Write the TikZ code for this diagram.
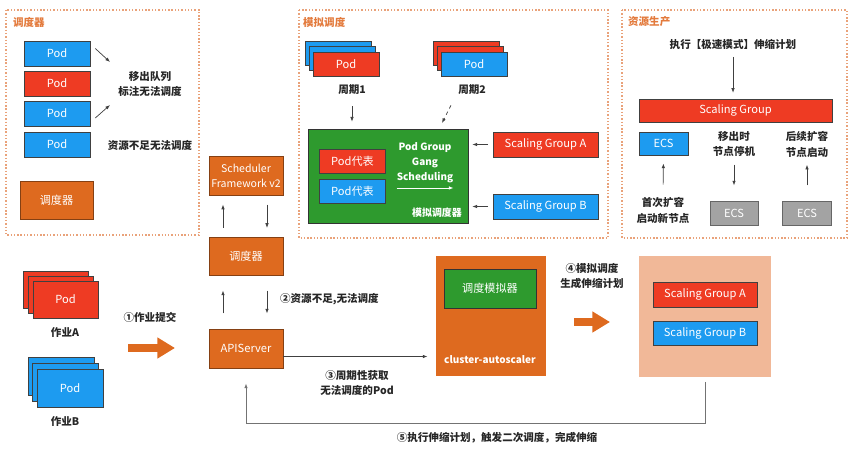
\documentclass[tikz,border=0pt]{standalone}
\usepackage{fontspec}
\setmainfont{Noto Sans CJK SC}
\usepackage{xcolor}
\usetikzlibrary{arrows.meta}
\definecolor{podred}{HTML}{EE3B23}
\definecolor{podblue}{HTML}{1D9BF0}
\definecolor{boxorange}{HTML}{DE6A1F}
\definecolor{simgreen}{HTML}{2E9A2E}
\definecolor{ecsgray}{HTML}{A3A3A3}
\definecolor{peach}{HTML}{F1B898}
\definecolor{dotorange}{HTML}{E9A27A}
\definecolor{ttlorange}{HTML}{E37A3C}

\begin{document}
\begin{tikzpicture}[x=0.03cm,y=-0.03cm,>={Latex[length=4pt,width=3pt]},font=\fontsize{9.5}{13}\selectfont,
  box/.style={draw=black!75,line width=0.5pt,text=white,inner sep=0pt,align=center},
  sz/.style 2 args={minimum width=#1*0.03cm,minimum height=#2*0.03cm},
  rbox/.style={box,fill=podred},
  bbox/.style={box,fill=podblue},
  obox/.style={box,fill=boxorange,draw=black!40!boxorange},
  gbox/.style={box,fill=simgreen,draw=black!80},
  ecsbox/.style={box,fill=ecsgray,draw=black!60},
  lbl/.style={align=center,text=black!85,font=\fontsize{9}{13.6}\selectfont\bfseries},
  wlbl/.style={align=center,text=white,inner sep=0pt,font=\fontsize{8.5}{12.7}\selectfont\bfseries},
  ttl/.style={anchor=west,text=ttlorange,font=\fontsize{9}{11}\selectfont\bfseries},
  panel/.style={draw=dotorange,line width=0.9pt,dash pattern=on 1.2pt off 1.6pt},
  arr/.style={->,draw=black!75,line width=0.6pt},
  fat/.style={-{Triangle[length=15pt,width=17pt]},draw=boxorange,line width=6pt}]
  \useasboundingbox (0,0) rectangle (851,454);
  \draw[panel] (6,10) rectangle (199,235);
  \draw[panel] (299,10) rectangle (608,238);
  \draw[panel] (622,10) rectangle (847,238);
  \node[ttl] (t1) at (9,22) {调度器};
  \node[ttl] (t2) at (299,22) {模拟调度};
  \node[ttl] (t3) at (624,22) {资源生产};
  % scheduler queue
  \node[bbox,sz={66}{25}] (q1) at (57,53.5) {Pod};
  \node[rbox,sz={66}{25}] (q2) at (57,83.5) {Pod};
  \node[bbox,sz={66}{25}] (q3) at (57,113.5) {Pod};
  \node[bbox,sz={66}{25}] (q4) at (57,144.5) {Pod};
  \node[lbl] (out) at (150,84) {移出队列\\标注无法调度};
  \node[lbl] (lack) at (150,145) {资源不足无法调度};
  \coordinate (o1) at (110,62);
  \coordinate (o2) at (110,105);
  \draw[arr] ([shift={(5,-5)}]q1.east) -- (o1);
  \draw[arr] ([shift={(5,4.5)}]q3.east) -- (o2);
  \node[obox,sz={73}{38}] (sch1) at (56.5,200) {调度器};
  % simulation
  \node[bbox,sz={66}{24}] (c1a) at (338,53) {};
  \node[bbox,sz={66}{24}] (c1b) at (342,58.5) {};
  \node[rbox,sz={66}{24}] (c1c) at (346,64) {Pod};
  \node[rbox,sz={66}{24}] (c2a) at (466,53) {};
  \node[rbox,sz={66}{24}] (c2b) at (470,58.5) {};
  \node[bbox,sz={66}{24}] (c2c) at (474,64) {Pod};
  \node[lbl] (per1) at (352,90) {周期1};
  \node[lbl] (per2) at (472,90) {周期2};
  \node[gbox,sz={160}{94}] (sim) at (388,176) {};
  \node[rbox,sz={66}{24}] (rep1) at (352.5,161) {Pod代表};
  \node[bbox,sz={66}{24}] (rep2) at (352.5,191) {Pod代表};
  \node[wlbl] (gang) at (425,163) {Pod Group\\Gang\\Scheduling};
  \draw[->,white,line width=0.6pt] ([yshift=-4pt]gang.south west) -- ([yshift=-4pt]gang.south east);
  \node[wlbl] (simname) at (437,213) {模拟调度器};
  \node[rbox,sz={105}{25}] (sga) at (545.5,144.5) {Scaling Group A};
  \node[bbox,sz={105}{25}] (sgb) at (545.5,206.5) {Scaling Group B};
  \draw[arr,shorten <=4pt,shorten >=3.5pt] (sga.west) -- (sga.west -| sim.east);
  \draw[arr,shorten <=4pt,shorten >=3.5pt] (sgb.west) -- (sgb.west -| sim.east);
  \draw[arr,shorten <=6pt,shorten >=6pt] (per1.south) -- (per1.south |- sim.north);
  \coordinate (sin) at (442,123);
  \draw[arr,dashed,shorten <=6pt] (per2.south west) -- (sin);
  % resource production
  \node[lbl] (exec) at (733,44) {执行【极速模式】伸缩计划};
  \node[rbox,sz={193}{23}] (sg) at (735.5,110.5) {Scaling Group};
  \draw[arr,shorten <=3pt,shorten >=5pt] (exec.south) -- (exec.south |- sg.north);
  \node[bbox,sz={49}{23}] (ecs1) at (663.5,143.5) {ECS};
  \node[lbl] (first) at (663,210) {首次扩容\\启动新节点};
  \draw[arr,shorten <=7pt,shorten >=7pt] (first.north) -- (ecs1.south);
  \node[lbl] (mv) at (734,144) {移出时\\节点停机};
  \node[ecsbox,sz={48}{24}] (ecs2) at (734,213) {ECS};
  \draw[arr,shorten <=3pt,shorten >=13pt] (mv.south) -- (ecs2.north);
  \node[lbl] (later) at (807,144) {后续扩容\\节点启动};
  \node[ecsbox,sz={49}{24}] (ecs3) at (807,213) {ECS};
  \draw[arr,shorten <=13pt,shorten >=3pt] (ecs3.north) -- (later.south);
  % core column
  \node[obox,sz={74}{39},font=\fontsize{9}{13}\selectfont] (sf) at (246,176) {Scheduler\\Framework v2};
  \node[obox,sz={74}{38}] (sch2) at (246,256) {调度器};
  \node[obox,sz={74}{39}] (api) at (246,348.5) {APIServer};
  \draw[arr,shorten <=7.5pt,shorten >=7.5pt] ([xshift=-0.69cm]sch2.north) -- ([xshift=-0.69cm]sf.south);
  \draw[arr,shorten <=7.5pt,shorten >=7.5pt] ([xshift=0.63cm]sf.south) -- ([xshift=0.63cm]sch2.north);
  \draw[arr,shorten <=13pt,shorten >=13pt] ([xshift=-0.69cm]api.north) -- ([xshift=-0.69cm]sch2.south);
  \draw[arr,shorten <=13pt,shorten >=13pt] ([xshift=0.63cm]sch2.south) -- ([xshift=0.63cm]api.north);
  \node[lbl,anchor=west] (lack2) at (276,299) {②资源不足,无法调度};
  % jobs
  \node[rbox,sz={65}{37}] (ja1) at (55.5,289.5) {};
  \node[rbox,sz={65}{37}] (ja2) at (60.5,294.5) {};
  \node[rbox,sz={65}{37}] (ja3) at (65.5,299.5) {Pod};
  \node[lbl] (joba) at (65,333) {作业A};
  \node[bbox,sz={66}{38}] (jb1) at (61,376) {};
  \node[bbox,sz={66}{38}] (jb2) at (65.5,382) {};
  \node[bbox,sz={66}{38}] (jb3) at (70,388) {Pod};
  \node[lbl] (jobb) at (65,422) {作业B};
  \node[lbl] (submit) at (150,317) {①作业提交};
  \coordinate (s1) at (128,348);
  \coordinate (s2) at (175,348);
  \draw[fat] (s1) -- (s2);
  % autoscaler
  \node[obox,draw=boxorange,sz={109}{119}] (ca) at (490.5,315.5) {};
  \node[gbox,sz={92}{39}] (csim) at (490,288.5) {调度模拟器};
  \node[wlbl] (caname) at (490,360) {cluster-autoscaler};
  \draw[arr,shorten >=7pt] ([yshift=-0.24cm]api.east) -- ([yshift=-0.24cm]api.east -| ca.west);
  \node[lbl] (fetch) at (357,383) {③周期性获取\\无法调度的Pod};
  \node[lbl] (gen) at (592,276) {④模拟调度\\生成伸缩计划};
  \coordinate (g1) at (574,322);
  \coordinate (g2) at (610,322);
  \draw[fat] (g1) -- (g2);
  \node[fill=peach,sz={132}{121}] (plan) at (705,316.5) {};
  \node[rbox,sz={104}{25}] (psa) at (705,294.5) {Scaling Group A};
  \node[bbox,sz={104}{24}] (psb) at (705,333) {Scaling Group B};
  \draw[arr,draw=black!55,shorten <=4pt,shorten >=13pt] (plan.south) -- ++(0,46) -| (api.south);
  \node[lbl] (done) at (497,438) {⑤执行伸缩计划，触发二次调度，完成伸缩};
\end{tikzpicture}
\end{document}
